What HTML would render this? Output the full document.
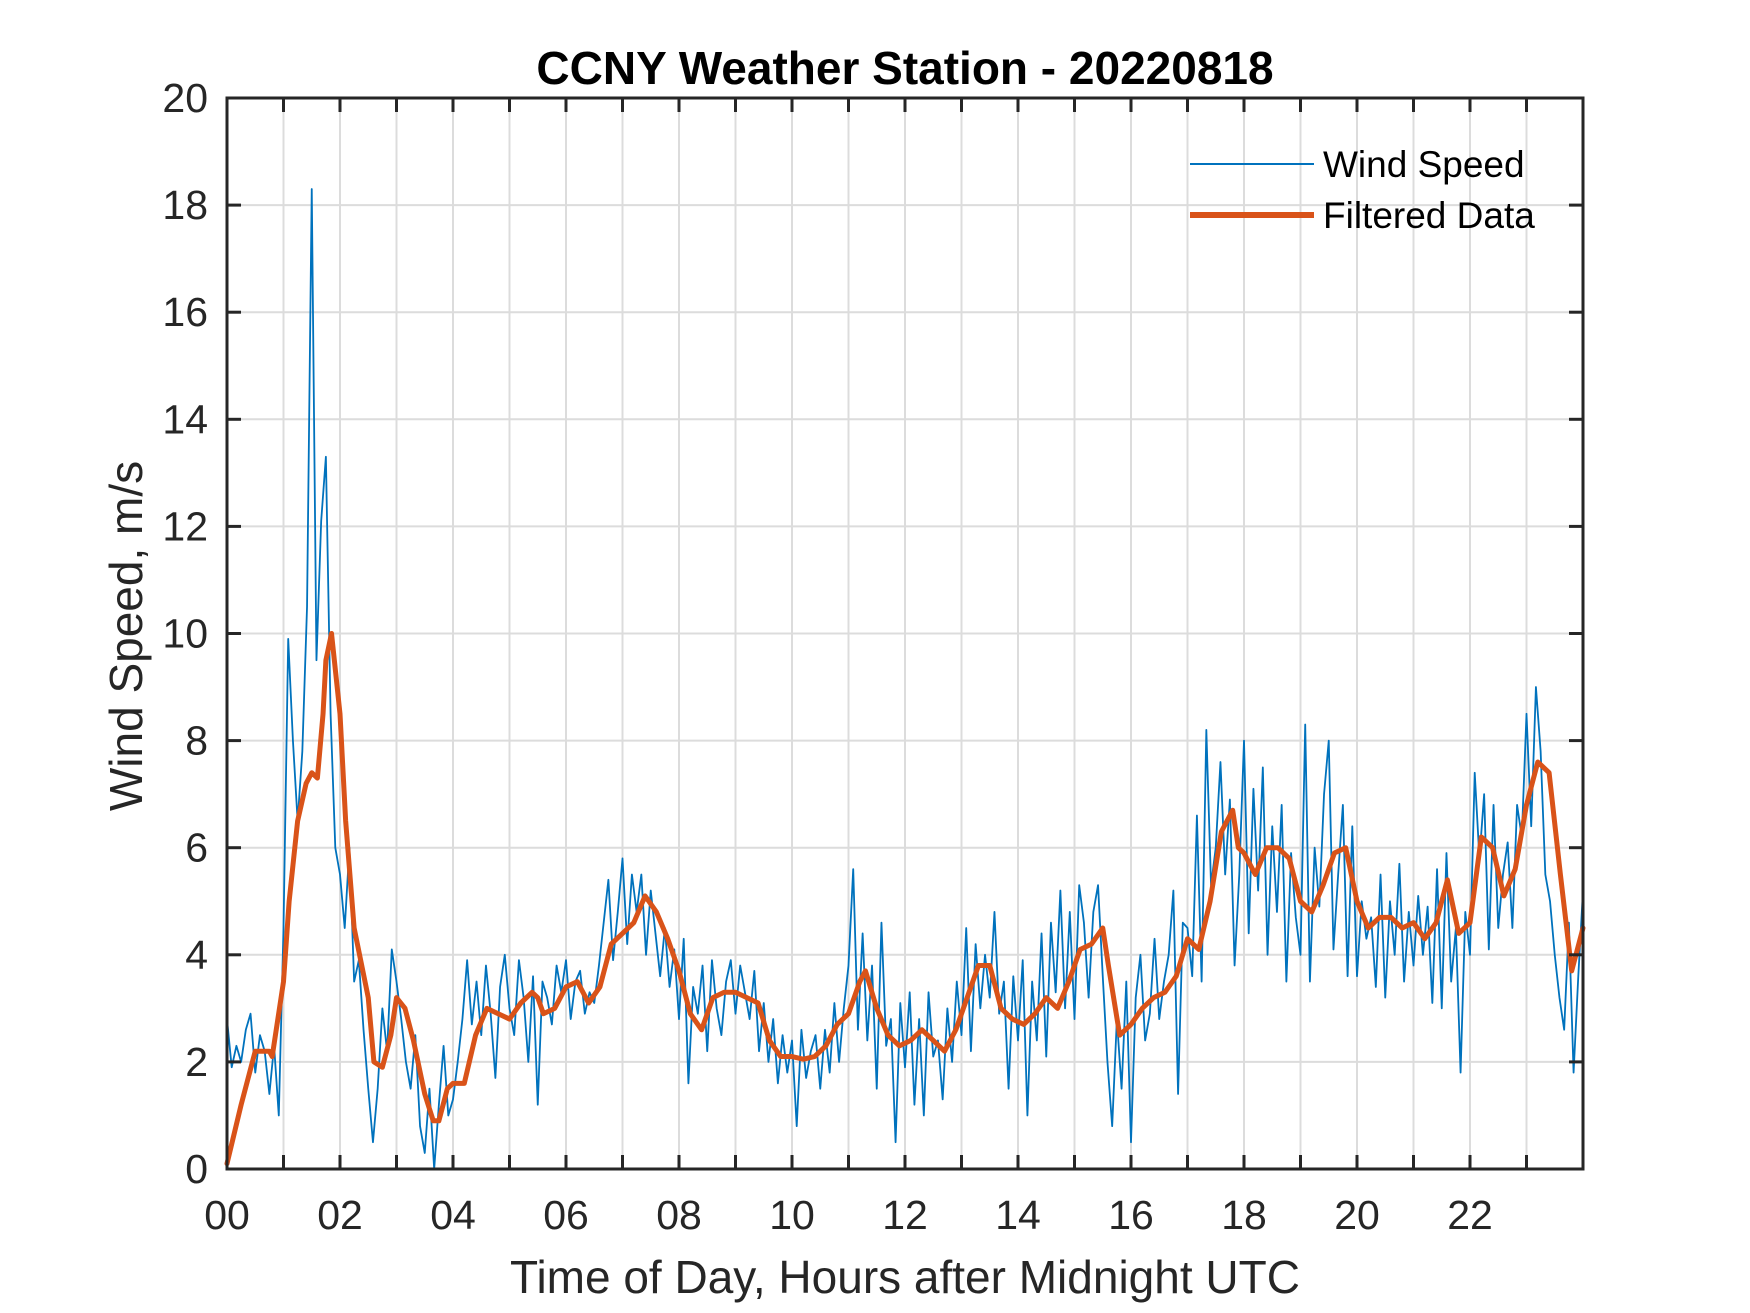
<!DOCTYPE html>
<html><head><meta charset="utf-8"><style>
body{margin:0;background:#fff}
svg{display:block;font-family:"Liberation Sans",Arial,sans-serif}
</style></head><body>
<svg id="chart" width="1750" height="1313" viewBox="0 0 1750 1313" xmlns="http://www.w3.org/2000/svg">
<rect width="1750" height="1313" fill="#fff"/>
<g id="grid"></g>
<g id="series"></g>
<g id="axes"></g>
<text x="905" y="84" text-anchor="middle" font-size="46" font-weight="bold" fill="#000">CCNY Weather Station - 20220818</text>
<text x="905" y="1293" text-anchor="middle" font-size="46" fill="#262626">Time of Day, Hours after Midnight UTC</text>
<text transform="translate(142,636) rotate(-90)" text-anchor="middle" font-size="46" fill="#262626">Wind Speed, m/s</text>
<g>
<line x1="1190" y1="164" x2="1314" y2="164" stroke="#0072BD" stroke-width="2"/>
<text x="1323" y="177" font-size="37" fill="#000">Wind Speed</text>
<line x1="1190" y1="215" x2="1314" y2="215" stroke="#D95319" stroke-width="6"/>
<text x="1323" y="228" font-size="37" fill="#000">Filtered Data</text>
</g>
</svg>
<script>
const rawValues=[
2.8,1.9,2.3,2.0,2.6,2.9,1.8,2.5,2.2,1.4,2.3,1.0,
4.5,9.9,8.0,6.5,7.8,10.5,18.3,9.5,12.1,13.3,8.5,6.0,
5.5,4.5,6.0,3.5,3.9,2.6,1.5,0.5,1.5,3.0,2.2,4.1,
3.5,2.8,2.0,1.5,2.5,0.8,0.3,1.5,0.0,1.2,2.3,1.0,
1.3,2.0,2.8,3.9,2.7,3.5,2.5,3.8,2.9,1.7,3.4,4.0,
3.0,2.5,3.9,3.2,2.0,3.6,1.2,3.5,3.2,2.7,3.8,3.3,
3.9,2.8,3.5,3.7,2.9,3.3,3.1,3.8,4.6,5.4,3.9,4.8,
5.8,4.2,5.5,4.8,5.5,4.0,5.2,4.4,3.6,4.5,3.4,4.1,
2.8,4.3,1.6,3.4,2.9,3.8,2.2,3.9,3.0,2.5,3.5,3.9,
2.9,3.8,3.3,2.8,3.7,2.2,3.1,2.0,2.8,1.6,2.5,1.8,
2.4,0.8,2.6,1.7,2.2,2.5,1.5,2.6,1.8,3.1,2.0,3.0,
3.8,5.6,2.6,4.4,2.4,3.8,1.5,4.6,2.3,2.8,0.5,3.1,
1.9,3.3,1.2,2.8,1.0,3.3,2.1,2.4,1.3,3.0,2.0,3.5,
2.5,4.5,2.2,4.2,3.0,4.0,3.2,4.8,2.9,3.5,1.5,3.6,
2.4,3.9,1.0,3.5,2.4,4.4,2.1,4.6,3.3,5.2,3.0,4.8,
2.8,5.3,4.6,3.2,4.8,5.3,3.6,2.0,0.8,2.8,1.5,3.5,
0.5,3.2,4.0,2.4,2.9,4.3,2.8,3.5,4.0,5.2,1.4,4.6,
4.5,3.6,6.6,3.5,8.2,5.3,6.0,7.6,5.5,6.9,3.8,5.5,
8.0,4.4,7.1,5.2,7.5,4.0,6.4,4.8,6.8,3.5,5.9,4.7,
4.0,8.3,3.5,6.0,4.9,7.0,8.0,4.1,5.5,6.8,3.6,6.4,
3.6,5.0,4.3,4.7,3.4,5.5,3.2,5.0,4.0,5.7,3.5,4.8,
3.8,5.1,4.0,4.9,3.1,5.6,3.0,5.9,3.5,4.5,1.8,4.8,
4.0,7.4,5.8,7.0,4.1,6.8,4.5,5.5,6.1,4.5,6.8,6.2,
8.5,6.4,9.0,7.8,5.5,5.0,4.0,3.2,2.6,4.6,1.8,3.6,
5.2];
const filtHours=[0,0.25,0.5,0.75,0.8,1.0,1.1,1.25,1.4,1.5,1.6,1.7,1.75,1.85,2.0,2.1,2.25,2.5,2.6,2.75,2.9,3.0,3.15,3.3,3.5,3.65,3.75,3.9,4.0,4.2,4.4,4.6,4.8,5.0,5.2,5.4,5.5,5.6,5.8,6.0,6.2,6.4,6.6,6.8,7.0,7.2,7.4,7.6,7.8,8.0,8.2,8.4,8.6,8.8,9.0,9.2,9.4,9.6,9.8,10.0,10.2,10.4,10.6,10.8,11.0,11.2,11.3,11.5,11.7,11.9,12.1,12.3,12.5,12.7,12.9,13.1,13.3,13.5,13.7,13.9,14.1,14.3,14.5,14.7,14.9,15.1,15.3,15.5,15.6,15.8,16.0,16.2,16.4,16.6,16.8,17.0,17.2,17.4,17.6,17.8,17.9,18.0,18.2,18.4,18.6,18.8,19.0,19.2,19.4,19.6,19.8,20.0,20.2,20.4,20.6,20.8,21.0,21.2,21.4,21.6,21.8,22.0,22.2,22.4,22.6,22.8,23.0,23.2,23.4,23.6,23.8,24.0];
const filtValues=[0.1,1.2,2.2,2.2,2.1,3.5,5.0,6.5,7.2,7.4,7.3,8.5,9.5,10.0,8.5,6.5,4.5,3.2,2.0,1.9,2.5,3.2,3.0,2.4,1.4,0.9,0.9,1.5,1.6,1.6,2.5,3.0,2.9,2.8,3.1,3.3,3.2,2.9,3.0,3.4,3.5,3.1,3.4,4.2,4.4,4.6,5.1,4.8,4.3,3.7,2.9,2.6,3.2,3.3,3.3,3.2,3.1,2.4,2.1,2.1,2.05,2.1,2.3,2.7,2.9,3.5,3.7,3.0,2.5,2.3,2.4,2.6,2.4,2.2,2.6,3.2,3.8,3.8,3.0,2.8,2.7,2.9,3.2,3.0,3.5,4.1,4.2,4.5,3.8,2.5,2.7,3.0,3.2,3.3,3.6,4.3,4.1,5.0,6.3,6.7,6.0,5.9,5.5,6.0,6.0,5.8,5.0,4.8,5.3,5.9,6.0,5.0,4.5,4.7,4.7,4.5,4.6,4.3,4.6,5.4,4.4,4.6,6.2,6.0,5.1,5.6,6.8,7.6,7.4,5.5,3.7,4.5];
const xTickLabels=["00","02","04","06","08","10","12","14","16","18","20","22"];
const yTickLabels=["0","2","4","6","8","10","12","14","16","18","20"];

const L=227,R=1583,T=98,B=1169;
const xs=h=>L+(R-L)*h/24;
const ys=v=>B-(B-T)*v/20;
const NS="http://www.w3.org/2000/svg";
function mk(tag,attrs,parent){const e=document.createElementNS(NS,tag);for(const k in attrs)e.setAttribute(k,attrs[k]);parent.appendChild(e);return e;}
const grid=document.getElementById('grid'),axes=document.getElementById('axes'),series=document.getElementById('series');
for(let h=1;h<24;h++){const l=mk('line',{x1:xs(h),x2:xs(h),y1:T,y2:B,stroke:'#dcdcdc','stroke-width':2},grid);

}
for(let v=2;v<20;v+=2){const l=mk('line',{x1:L,x2:R,y1:ys(v),y2:ys(v),stroke:'#dcdcdc','stroke-width':2},grid);

}
let d='';rawValues.forEach((v,i)=>{d+=(i?'L':'M')+xs(i*24/(rawValues.length-1)).toFixed(2)+','+ys(v).toFixed(2);});
const p1=mk('path',{d:d,fill:'none',stroke:'#0072BD','stroke-width':1.8,'stroke-linejoin':'round'},series);


let d2='';filtValues.forEach((v,i)=>{d2+=(i?'L':'M')+xs(filtHours[i]).toFixed(2)+','+ys(v).toFixed(2);});
const p2=mk('path',{d:d2,fill:'none',stroke:'#D95319','stroke-width':5,'stroke-linejoin':'round','stroke-linecap':'round'},series);


const box=mk('rect',{x:L,y:T,width:R-L,height:B-T,fill:'none',stroke:'#262626','stroke-width':3},axes);


for(let h=1;h<24;h++){mk('line',{x1:xs(h),x2:xs(h),y1:B,y2:B-14,stroke:'#262626','stroke-width':3},axes);mk('line',{x1:xs(h),x2:xs(h),y1:T,y2:T+14,stroke:'#262626','stroke-width':3},axes);}
for(let v=2;v<20;v+=2){mk('line',{x1:L,x2:L+14,y1:ys(v),y2:ys(v),stroke:'#262626','stroke-width':3},axes);mk('line',{x1:R,x2:R-14,y1:ys(v),y2:ys(v),stroke:'#262626','stroke-width':3},axes);}
xTickLabels.forEach((t,i)=>{const e=mk('text',{x:xs(i*2),y:1229,'text-anchor':'middle','font-size':41,fill:'#262626'},axes);e.textContent=t;

});
yTickLabels.forEach((t,i)=>{const e=mk('text',{x:208,y:ys(i*2)+14,'text-anchor':'end','font-size':41,fill:'#262626'},axes);e.textContent=t;

});
</script>
</body></html>
